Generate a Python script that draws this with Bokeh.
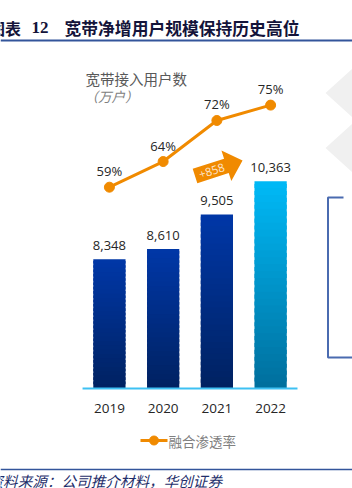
import numpy as np
from bokeh.plotting import figure
from bokeh.models import Range1d
from bokeh.core.properties import value
from bokeh.embed import file_html
from bokeh.resources import INLINE

# ---------------- data ----------------
years = ["2019", "2020", "2021", "2022"]
users = [8348, 8610, 9505, 10363]          # 宽带接入用户数（万户）
penetration = [59, 64, 72, 75]             # 融合渗透率 (%)
chart_title = "宽带接入用户数"
unit_label = "（万户）"
legend_label = "融合渗透率"
header_prefix = "图表"
header_num = "12"
header_text = "宽带净增用户规模保持历史高位"
source_text = "资料来源：公司推介材料，华创证券"

# ---------------- layout / style ----------------
W, H = 352, 488
BASE = 5008                      # value at the category axis line
ORANGE = "#F08A00"
NAVY_LINE = "#33559B"
CJK = "Noto Sans CJK SC"
NUM = "Open Sans"

p = figure(width=W, height=H, output_backend="svg", toolbar_location=None,
           x_range=Range1d(-2.027, 4.524), y_range=Range1d(2425, 15031),
           x_axis_location=None, y_axis_location=None, min_border=0,
           outline_line_color=None, background_fill_color="white",
           border_fill_color="white")
p.grid.visible = False
p.extra_x_ranges = {"px": Range1d(0, W)}
p.extra_y_ranges = {"py": Range1d(H, 0), "pct": Range1d(0.27, 95.39)}

xs = np.arange(len(years))


def hex2rgb(h):
    h = h.lstrip("#")
    return np.array([int(h[i:i + 2], 16) for i in (0, 2, 4)], dtype=float)


def grad(c0, c1, n):
    a, b = hex2rgb(c0), hex2rgb(c1)
    out = []
    for t in np.linspace(0, 1, n):
        c = a + (b - a) * t
        out.append("#%02x%02x%02x" % tuple(int(round(v)) for v in c))
    return out


# ---- decorations (right side) ----
p.patches(xs=[[352, 325, 352], [352, 325, 352]],
          ys=[[68, 92.5, 117], [123, 147.5, 172]],
          x_range_name="px", y_range_name="py",
          fill_color="#F0F0F0", line_color=None)
p.line(x=[343, 327.5, 327.5, 352], y=[197, 197, 357, 357],
       x_range_name="px", y_range_name="py",
       line_color="#4A6BB0", line_width=2)

# ---- bars with vertical gradient (drawn as stacked slices) ----
N = 30
for i, v in enumerate(users):
    if i == len(users) - 1:
        cols = grad("#00709E", "#00B8F5", N)
    else:
        cols = grad("#002262", "#0037A6", N)
    edges = BASE + (v - BASE) * np.linspace(0, 1, N + 1)
    step = edges[1] - edges[0]
    tops = edges[1:].copy()
    tops[:-1] += step * 0.6          # overlap slices to hide seams
    p.vbar(x=[i] * N, width=0.6, bottom=edges[:-1], top=tops,
           fill_color=cols, line_color=None)

# axis line
p.segment(x0=[-0.5], x1=[len(years) - 0.5], y0=[BASE], y1=[BASE],
          line_color="#3EC1F3", line_width=2)

# bar value labels
p.text(x=xs, y=users, text=[f"{v:,}" for v in users], y_offset=-14,
       text_align="center", text_baseline="middle",
       text_font=value(NUM), text_font_size="13px", text_color="#262626")

# year labels
p.text(x=xs, y=[408] * len(years), y_range_name="py", text=years,
       text_align="center", text_baseline="middle",
       text_font=value(NUM), text_font_size="13.5px", text_color="#262626")

# ---- penetration line ----
p.line(x=xs, y=penetration, y_range_name="pct", line_color=ORANGE, line_width=3)
p.scatter(x=xs, y=penetration, y_range_name="pct", size=10,
          fill_color=ORANGE, line_color=ORANGE)
p.text(x=xs, y=penetration, y_range_name="pct",
       text=[f"{v}%" for v in penetration], y_offset=-16,
       text_align="center", text_baseline="middle",
       text_font=value(NUM), text_font_size="13px", text_color="#262626")

# ---- growth arrow (+858) ----
theta = np.deg2rad(18)
d = np.array([np.cos(theta), -np.sin(theta)])      # screen direction
nrm = np.array([np.sin(theta), np.cos(theta)])     # perpendicular (down-right)
T = np.array([194.5, 175.5])
L, HL, BW, HW = 50.0, 17.0, 7.5, 16.0
pts = [T + nrm * BW, T - nrm * BW,
       T + d * (L - HL) - nrm * BW, T + d * (L - HL) - nrm * HW,
       T + d * L,
       T + d * (L - HL) + nrm * HW, T + d * (L - HL) + nrm * BW]
p.patch(x=[q[0] for q in pts], y=[q[1] for q in pts],
        x_range_name="px", y_range_name="py",
        fill_color=ORANGE, line_color=None)
c = T + d * (L - HL) / 2
p.text(x=[c[0] + 1], y=[c[1]], x_range_name="px", y_range_name="py",
       text=[f"+{users[-1] - users[-2]}"], angle=theta,
       text_align="center", text_baseline="middle",
       text_font=value(NUM), text_font_size="11.5px", text_color="#FCE6D0")

# ---- titles inside chart ----
p.text(x=[85], y=[78], x_range_name="px", y_range_name="py", text=[chart_title],
       text_align="left", text_baseline="middle",
       text_font=value(CJK), text_font_size="14.5px", text_color="#595959")
p.text(x=[84], y=[95], x_range_name="px", y_range_name="py", text=[unit_label],
       text_align="left", text_baseline="middle", text_font_style="italic",
       text_font=value(CJK), text_font_size="13.5px", text_color="#808080")

# ---- legend ----
p.line(x=[140, 167], y=[440, 440], x_range_name="px", y_range_name="py",
       line_color=ORANGE, line_width=3)
p.scatter(x=[153.5], y=[440], x_range_name="px", y_range_name="py", size=9,
          fill_color=ORANGE, line_color=ORANGE)
p.text(x=[168], y=[440], x_range_name="px", y_range_name="py", text=[legend_label],
       text_align="left", text_baseline="middle",
       text_font=value(CJK), text_font_size="13.5px", text_color="#808080")

# ---- header ----
p.text(x=[-11.5], y=[27], x_range_name="px", y_range_name="py", text=[header_prefix],
       text_align="left", text_baseline="middle", text_font_style="bold",
       text_font=value(CJK), text_font_size="16px", text_color="#14143A")
p.text(x=[31], y=[27], x_range_name="px", y_range_name="py", text=[header_num],
       text_align="left", text_baseline="middle", text_font_style="bold",
       text_font=value("Liberation Serif"), text_font_size="17px", text_color="#14143A")
p.text(x=[64], y=[27], x_range_name="px", y_range_name="py", text=[header_text],
       text_align="left", text_baseline="middle", text_font_style="bold",
       text_font=value(CJK), text_font_size="16.8px", text_color="#14143A")
p.line(x=[0, W], y=[40, 40], x_range_name="px", y_range_name="py",
       line_color=NAVY_LINE, line_width=2)

# ---- footer ----
p.line(x=[0, W], y=[469, 469], x_range_name="px", y_range_name="py",
       line_color=NAVY_LINE, line_width=1.5)
p.text(x=[-12], y=[480], x_range_name="px", y_range_name="py", text=[source_text],
       text_align="left", text_baseline="middle", text_font_style="italic",
       text_font=value(CJK), text_font_size="14.6px", text_color="#1F2F6B")

open("out.html", "w").write(file_html(p, INLINE))
